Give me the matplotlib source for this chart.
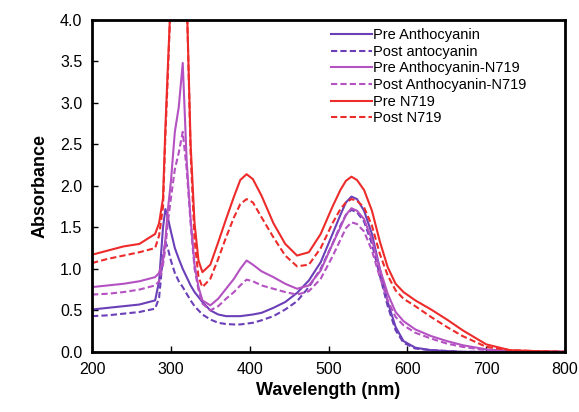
import matplotlib
matplotlib.use("Agg")
import matplotlib.pyplot as plt

# wavelength grid (nm) shared by all spectra
wavelength = [200, 220, 240, 260, 280, 285, 290, 293, 296,
              300, 305, 310, 315, 320, 325, 330, 335,
              340, 350, 360, 370,
              380, 388, 396, 404, 415,
              430, 445, 460, 475, 490,
              505, 515, 522, 529, 536,
              545, 555, 565, 575, 585, 595,
              610, 630, 650, 670, 700, 730, 760, 800]

pre_antho = [0.51, 0.53, 0.55, 0.57, 0.62, 0.85, 1.5, 1.72, 1.62,
             1.45, 1.25, 1.12, 1.0, 0.9, 0.8, 0.72, 0.66,
             0.6, 0.5, 0.45, 0.43,
             0.43, 0.43, 0.44, 0.45, 0.47,
             0.53, 0.6, 0.71, 0.86, 1.08,
             1.42, 1.65, 1.8, 1.87, 1.84,
             1.7, 1.42, 1.0, 0.6, 0.3, 0.13,
             0.05, 0.02, 0.01, 0, 0, 0, 0, 0]
post_antho = [0.43, 0.44, 0.46, 0.48, 0.52, 0.65, 1.15, 1.33, 1.25,
              1.1, 0.95, 0.85, 0.78, 0.7, 0.62, 0.55, 0.5,
              0.45, 0.39, 0.35, 0.335,
              0.33, 0.33, 0.34, 0.35, 0.38,
              0.43, 0.51, 0.61, 0.78, 1.0,
              1.3, 1.52, 1.65, 1.71, 1.68,
              1.57, 1.3, 0.92, 0.55, 0.26, 0.11,
              0.04, 0.02, 0.01, 0, 0, 0, 0, 0]
pre_mix = [0.78, 0.8, 0.82, 0.85, 0.9, 0.95, 1.1, 1.35, 1.7,
           2.05, 2.65, 2.95, 3.48, 2.3, 1.6, 1.05, 0.78,
           0.62, 0.56, 0.64, 0.76,
           0.88, 1.0, 1.1, 1.05, 0.97,
           0.9, 0.82, 0.76, 0.8, 0.98,
           1.3, 1.5, 1.65, 1.73, 1.7,
           1.6, 1.35, 1.0, 0.7, 0.48, 0.37,
           0.27, 0.19, 0.13, 0.08, 0.03, 0.01, 0, 0]
post_mix = [0.69, 0.7, 0.72, 0.75, 0.8, 0.85, 1.05, 1.25, 1.55,
            1.85, 2.2, 2.4, 2.65, 2.2, 1.55, 1.0, 0.75,
            0.58, 0.5, 0.55, 0.64,
            0.72, 0.8, 0.87, 0.85, 0.8,
            0.76, 0.72, 0.69, 0.73, 0.88,
            1.15, 1.35, 1.49, 1.56, 1.54,
            1.45, 1.22, 0.9, 0.62, 0.42, 0.32,
            0.23, 0.16, 0.1, 0.06, 0.02, 0.01, 0, 0]
pre_n719 = [1.17, 1.22, 1.27, 1.3, 1.42, 1.55, 1.85, 2.7, 3.4,
            4.3, 4.5, 4.5, 4.5, 4.3, 2.5, 1.55, 1.1,
            0.96, 1.05, 1.32, 1.6,
            1.87, 2.07, 2.14, 2.08, 1.88,
            1.55, 1.3, 1.16, 1.2, 1.42,
            1.75, 1.95, 2.06, 2.11, 2.07,
            1.95, 1.7, 1.33, 1.02, 0.82, 0.72,
            0.62, 0.51, 0.39, 0.26, 0.09, 0.02, 0.01, 0]
post_n719 = [1.07, 1.12, 1.16, 1.2, 1.25, 1.4, 1.75, 2.6, 3.3,
             4.3, 4.5, 4.5, 4.5, 4.3, 2.4, 1.35, 0.9,
             0.78, 0.88, 1.12, 1.38,
             1.62, 1.78, 1.84, 1.8, 1.62,
             1.38, 1.16, 1.03, 1.05, 1.25,
             1.55, 1.72, 1.8, 1.84, 1.82,
             1.74, 1.52, 1.18, 0.92, 0.74, 0.64,
             0.55, 0.42, 0.3, 0.19, 0.06, 0.02, 0.01, 0]

labels = ["Pre Anthocyanin", "Post antocyanin", "Pre Anthocyanin-N719",
          "Post Anthocyanin-N719", "Pre N719", "Post N719"]

purple = "#6b3fb8"
orchid = "#b452c2"
red = "#ee2b2b"
dash = (0, (3, 1.5))

plt.rcParams['font.family'] = ['Liberation Sans', 'DejaVu Sans']

fig = plt.figure(figsize=(5.79, 4.12), dpi=100)
ax = fig.add_axes([0.159, 0.146, 0.817, 0.806])

series = [pre_antho, post_antho, pre_mix, post_mix, pre_n719, post_n719]
colors = [purple, purple, orchid, orchid, red, red]
styles = ["-", dash, "-", dash, "-", dash]
for ys, c, ls, lab in zip(series, colors, styles, labels):
    ax.plot(wavelength, ys, color=c, linestyle=ls, linewidth=1.5, label=lab)

ax.set_xlim(200, 800)
ax.set_ylim(0, 4)
ax.set_xticks(range(200, 801, 100))
ax.set_yticks([i * 0.5 for i in range(9)])
ax.set_yticklabels([f"{i * 0.5:.1f}" for i in range(9)])
ax.tick_params(axis='both', direction='in', length=4, width=1, labelsize=11.5, pad=7)
for sp in ax.spines.values():
    sp.set_linewidth(2)

ax.set_xlabel("Wavelength (nm)", fontsize=13, fontweight='bold', labelpad=4)
ax.set_ylabel("Absorbance", fontsize=13, fontweight='bold', labelpad=8)

ax.legend(loc='upper left', bbox_to_anchor=(0.48, 1.01), frameon=False, fontsize=10.5,
          handlelength=2.8, handletextpad=0.1, labelspacing=0.18, borderpad=0.3)

fig.savefig("out.png", dpi=100)
